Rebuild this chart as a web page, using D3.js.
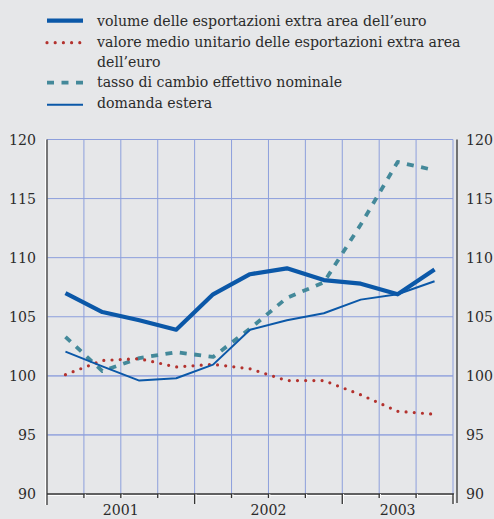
<!DOCTYPE html>
<html><head><meta charset="utf-8">
<script src="https://cdn.jsdelivr.net/npm/d3@7"></script>
<style>
html,body{margin:0;padding:0;background:#e6e7e9;}
svg{display:block;}
</style></head><body>
<svg id="c" width="494" height="519"></svg>
<script>
// quarterly observations, 2001 Q1 .. 2003 Q3
const quarters = ["2001Q1","2001Q2","2001Q3","2001Q4","2002Q1","2002Q2","2002Q3","2002Q4","2003Q1","2003Q2","2003Q3"];
const volume   = [107.0,105.4,104.7,103.9,106.9,108.6,109.1,108.1,107.8,106.9,109.0];
const valore   = [100.1,101.3,101.45,100.75,100.97,100.6,99.6,99.6,98.4,97.0,96.75];
const cambio   = [103.3,100.4,101.5,102.0,101.6,104.0,106.6,107.9,112.8,118.1,117.4];
const domanda  = [102.05,100.8,99.6,99.8,100.95,103.9,104.7,105.3,106.45,106.9,108.0];
const years = ["2001","2002","2003"];
const yTicks = [90,95,100,105,110,115,120];
const legendLabels = [
  ["volume delle esportazioni extra area dell\u2019euro"],
  ["valore medio unitario delle esportazioni extra area","dell\u2019euro"],
  ["tasso di cambio effettivo nominale"],
  ["domanda estera"]
];

const FONT = "DejaVu Serif Condensed, DejaVu Serif, serif";
const TXT = "#2b2b2b";
const svg = d3.select("#c");
const L = 47, R = 453, T = 139.5, B = 494;
const x = d3.scaleLinear().domain([0, 33]).range([L, R]);
const y = d3.scaleLinear().domain([90, 120]).range([B, T]);
const qx = i => x(i*3 + 1.5);

// pick a font size so the first legend line is ~330px wide, as in the reference
const probe = svg.append("text").style("font-family", FONT).attr("font-size", 20).text(legendLabels[0][0]);
const FS = Math.min(18, 20 * 330 / probe.node().getComputedTextLength());
probe.remove();

// grid
const g = svg.append("g");
d3.range(3, 34, 3).forEach(m => {
  g.append("line").attr("x1", x(m)).attr("x2", x(m)).attr("y1", T).attr("y2", B)
   .attr("stroke", "#8d9fdc").attr("stroke-width", 1);
});
yTicks.filter(v => v > 90).forEach(v => {
  g.append("line").attr("x1", L).attr("x2", R).attr("y1", y(v)).attr("y2", y(v))
   .attr("stroke", "#8d9fdc").attr("stroke-width", (v===100||v===95)?1.6:1)
   .attr("stroke-opacity", (v===100||v===95)?0.8:1);
});

// axes
const ax = svg.append("g");
ax.append("line").attr("x1", L-1.5).attr("x2", L-1.5).attr("y1", T).attr("y2", 505).attr("stroke", "#fff").attr("stroke-width", 1);
ax.append("line").attr("x1", L).attr("x2", R+1).attr("y1", B+1.5).attr("y2", B+1.5).attr("stroke", "#fff").attr("stroke-width", 1);
ax.append("line").attr("x1", L).attr("x2", L).attr("y1", T).attr("y2", 505).attr("stroke", "#5a5a5a").attr("stroke-width", 1.6);
ax.append("line").attr("x1", L).attr("x2", R+1).attr("y1", B).attr("y2", B).attr("stroke", "#333").attr("stroke-width", 1.3);
ax.append("line").attr("x1", 457).attr("x2", 457).attr("y1", T).attr("y2", 503).attr("stroke", "#333").attr("stroke-width", 1.3);
d3.range(3, 34, 3).forEach(m => {
  const big = (m % 12 === 0) || m === 33;
  ax.append("line").attr("x1", x(m)+1.3).attr("x2", x(m)+1.3).attr("y1", B).attr("y2", B + (big?10:4))
    .attr("stroke", "#fff").attr("stroke-width", 1);
  ax.append("line").attr("x1", x(m)).attr("x2", x(m)).attr("y1", B).attr("y2", B + (big?10:4))
    .attr("stroke", "#333").attr("stroke-width", 1.3);
});

function txt(xp, yp, s, anchor, dy) {
  return svg.append("text").attr("x", xp).attr("y", yp).attr("dy", dy || null)
    .attr("text-anchor", anchor).attr("font-size", FS)
    .style("font-family", FONT).attr("fill", TXT).text(s);
}
// y tick labels
yTicks.forEach(v => {
  txt(36, y(v), v, "end", "0.35em");
  txt(466, y(v), v, "start", "0.35em");
});
// year labels
years.forEach((yr, i) => {
  const cx = i < 2 ? x(i*12 + 6) : x(24 + 4.5);
  txt(cx, 515, yr, "middle");
});

// series
const line = d3.line().x((d, i) => qx(i)).y(d => y(d));
const series = [
  {data: cambio, color: "#44899a", w: 3.8, dash: "7 7.5", cap: "butt"},
  {data: valore, color: "#b3322e", w: 3.2, dash: "0 8.2", cap: "round"},
  {data: domanda, color: "#0b58a8", w: 2, dash: null, cap: "butt"},
  {data: volume, color: "#0b58a8", w: 4.2, dash: null, cap: "butt"}
];
series.forEach(s => {
  svg.append("path").datum(s.data).attr("d", line).attr("fill", "none")
    .attr("stroke", s.color).attr("stroke-width", s.w)
    .attr("stroke-dasharray", s.dash).attr("stroke-linecap", s.cap)
    .attr("stroke-linejoin", "round");
});

// legend
const legY = [20.7, 42.7, 82.7, 104.7];
const txtY = [[21], [42, 61.5], [81.5], [102.5]];
const legStyles = [series[3], series[1], series[0], series[2]];
legStyles.forEach((s, i) => {
  svg.append("line").attr("x1", 47).attr("x2", 83).attr("y1", legY[i]).attr("y2", legY[i])
    .attr("stroke", s.color).attr("stroke-width", s.w)
    .attr("stroke-dasharray", s.dash).attr("stroke-linecap", s.cap);
  legendLabels[i].forEach((t, j) => txt(97, txtY[i][j], t, "start", "0.35em"));
});
</script>
</body></html>
